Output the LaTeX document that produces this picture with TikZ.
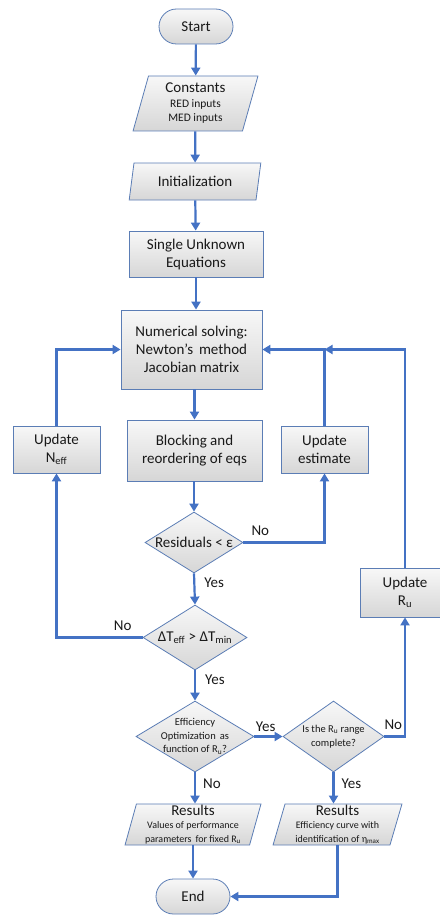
\documentclass[tikz,border=0pt]{standalone}
\usepackage{fontspec}
\setmainfont{Carlito}
\usetikzlibrary{shapes.geometric,arrows.meta}

\definecolor{flowblue}{HTML}{4472C4}
\definecolor{edgeblue}{HTML}{5B7DB5}

\newcommand{\maintxt}{\fontsize{15}{18}\selectfont}
\newcommand{\subtxt}{\fontsize{11.5}{13.5}\selectfont}
\newcommand{\tinytxt}{\fontsize{10}{13}\selectfont}

\tikzset{
  base/.style={draw=edgeblue, line width=0.8pt, top color=gray!6, bottom color=gray!32,
    text=black!90, align=center, font=\maintxt, inner sep=1pt},
  terminal/.style={base, rectangle, rounded corners=17.5pt, minimum width=74pt, minimum height=35pt},
  process/.style={base, rectangle},
  io/.style={base, trapezium, trapezium left angle=76.5, trapezium right angle=103.5,
    trapezium stretches=true},
  decision/.style={base, diamond, inner sep=0pt},
  dtext/.style={align=center, text=black!90, inner sep=0pt},
  flow/.style={draw=flowblue, line width=2.2pt, -{Triangle[length=8pt,width=9pt]}},
  lab/.style={text=black!90, font=\maintxt, inner sep=2pt}
}

\begin{document}
\begin{tikzpicture}[x=1pt, y=-1pt]
  \useasboundingbox (0,0) rectangle (439,915);

  % Main column
  \node[terminal] (start) at (196,26.5) {Start};
  \node[io, minimum width=125pt, minimum height=55pt] (const) at (195.5,103.5)
    {Constants\\[-3pt]{\subtxt RED inputs}\\[-4pt]{\subtxt MED inputs}};
  \node[io, minimum width=132pt, minimum height=37pt] (init) at (195,181.5) {Initialization};
  \node[process, minimum width=134pt, minimum height=46pt] (single) at (196,254)
    {Single Unknown\\Equations};
  \node[process, minimum width=141pt, minimum height=79pt] (num) at (191.5,349.5)
    {Numerical solving:\\Newton’s\, method\\Jacobian matrix};
  \node[process, minimum width=135pt, minimum height=61pt] (block) at (194.5,450.5)
    {Blocking and\\reordering of eqs};

  % Side updates
  \node[process, minimum width=87pt, minimum height=47pt] (neff) at (56.5,449.5)
    {Update\\N\textsubscript{eff}};
  \node[process, minimum width=87pt, minimum height=47pt] (est) at (324.5,449.5)
    {Update\\estimate};
  \node[process, minimum width=90pt, minimum height=49pt] (ru) at (405,592.5)
    {Update\\R\textsubscript{u}};

  % Decisions
  \node[decision, minimum width=98pt, minimum height=61pt] (res) at (194,542.5) {};
  \node[dtext, font=\maintxt] (res-t) at (res) {Residuals < ε};
  \node[decision, minimum width=104pt, minimum height=65pt] (dT) at (195,637.5) {};
  \node[dtext, font=\maintxt] (dT-t) at (dT)
    {ΔT\textsubscript{eff} > ΔT\textsubscript{min}};
  \node[decision, minimum width=118pt, minimum height=71pt] (opt) at (195,736.5) {};
  \node[dtext, font=\fontsize{10.5}{13.5}\selectfont] (opt-t) at (opt)
    {Efficiency\\Optimization\, as\\function of R\textsubscript{u}?};
  \node[decision, minimum width=101pt, minimum height=71pt] (rng) at (333.5,736.5) {};
  \node[dtext, font=\fontsize{10.5}{14}\selectfont] (rng-t) at (rng)
    {Is the R\textsubscript{u} range\\complete?};

  % Outputs
  \node[io, minimum width=136pt, minimum height=41pt] (resA) at (193,824.5)
    {Results\\[-5pt]{\tinytxt Values of performance}\\[-4pt]{\tinytxt parameters\, for fixed R\textsubscript{u}}};
  \node[io, minimum width=129pt, minimum height=41pt] (resB) at (337.5,824.5)
    {Results\\[-5pt]{\tinytxt Efficiency curve with}\\[-4pt]{\tinytxt identification of η\textsubscript{max}}};
  \node[terminal] (end) at (193,896.5) {End};

  \coordinate (jn) at (est.north |- num.east);

  % Connectors
  \draw[flow] (start) -- (const);
  \draw[flow] (const) -- (init);
  \draw[flow] (init) -- (single);
  \draw[flow] (single.south) -- (single.south |- num.north);
  \draw[flow] (block.north |- num.south) -- (block.north);
  \draw[flow] (res.north |- block.south) -- (res.north);
  \draw[flow] (res.east) -| node[lab, pos=0, anchor=south west, xshift=5pt, yshift=4pt] {No} (est.south);
  \draw[flow] (est.north) |- (num.east);
  \draw[flow] (ru.north) |- (jn);
  \draw[flow] (res.south) -- node[lab, right=7pt, pos=0.3] {Yes} (dT.north);
  \draw[flow] (dT.west) -| node[lab, pos=0, anchor=south east, xshift=-8pt, yshift=4pt] {No} (neff.south);
  \draw[flow] (neff.north) |- (num.west);
  \draw[flow] (dT.south) -- node[lab, right=7pt, pos=0.3] {Yes} (opt.north);
  \draw[flow] (opt.east) -- node[lab, above, pos=0.4, yshift=2pt] {Yes} (rng.west);
  \draw[flow] (rng.east) -| node[lab, pos=0, anchor=south west, xshift=-3pt, yshift=4pt] {No} (ru.south);
  \draw[flow] (opt.south) -- node[lab, right=5pt, pos=0.35] {No} (opt.south |- resA.north);
  \draw[flow] (rng.south) -- node[lab, right=5pt, pos=0.35] {Yes} (rng.south |- resB.north);
  \draw[flow] (resA.south) -- (resA.south |- end.north);
  \draw[flow] (resB.south) |- (end.east);
\end{tikzpicture}
\end{document}
